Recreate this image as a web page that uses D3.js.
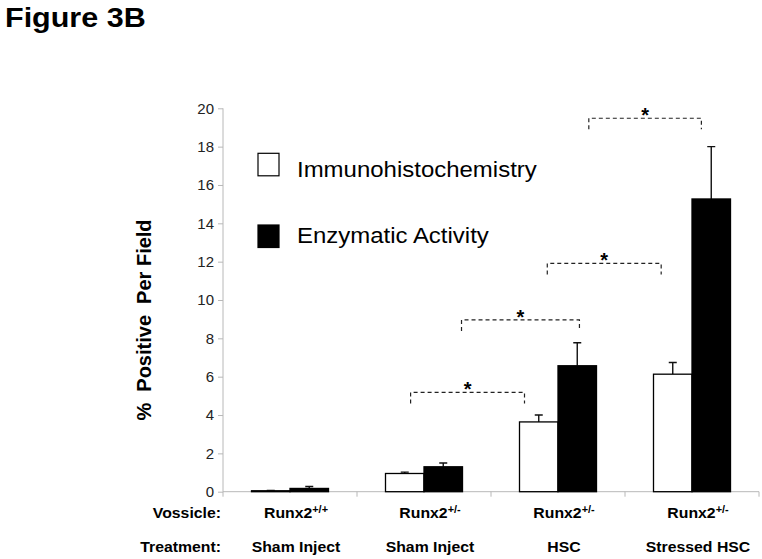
<!DOCTYPE html>
<html>
<head>
<meta charset="utf-8">
<script src="https://cdnjs.cloudflare.com/ajax/libs/d3/7.8.5/d3.min.js"></script>
<style>
  body { margin: 0; background: #fff; }
  svg { display: block; font-family: Arial, 'Liberation Sans', sans-serif; }
</style>
</head>
<body>
<svg width="762" height="559"></svg>
<script>
const svg = d3.select('svg');

// data
const categories = ['Sham Inject', 'Sham Inject 2', 'HSC', 'Stressed HSC'];
const vossicleLabels = ['+/+', '+/-', '+/-', '+/-'];
const treatmentLabels = ['Sham Inject', 'Sham Inject', 'HSC', 'Stressed HSC'];
const seriesNames = ['Immunohistochemistry', 'Enzymatic Activity'];
const immValues = [0.05, 0.95, 3.64, 6.13];
const immUpper = [0.07, 1.02, 4.0, 6.74];
const enzValues = [0.17, 1.3, 6.57, 15.27];
const enzUpper = [0.27, 1.5, 7.77, 18.0];
const yTicks = [0, 2, 4, 6, 8, 10, 12, 14, 16, 18, 20];
// significance brackets, in category units along x and % along y
const bracketFrom = [1.40, 1.78, 2.42, 2.73];
const bracketTo = [2.25, 2.66, 3.27, 3.57];
const bracketLevel = [5.18, 8.96, 11.91, 19.48];

const plot = { left: 223, right: 759, top: 108.3, bottom: 491.7 };
const hStretch = 1.09;  // source picture is a little wider than tall

const x = d3.scaleBand().domain(categories).range([plot.left, plot.right]);
const xs = d3.scaleBand().domain(seriesNames)
  .range([x.bandwidth() / 2 - 38.5, x.bandwidth() / 2 + 38.5]);
const xPos = d3.scaleLinear().domain([0, 4]).range([plot.left, plot.right]);
const y = d3.scaleLinear().domain([0, 20]).range([plot.bottom, plot.top]);

const stretchText = (sel, tx, ty) =>
  sel.attr('transform', `translate(${tx},${ty}) scale(${hStretch},1)`);

// title
svg.append('text')
  .call(stretchText, 5, 27)
  .attr('font-size', 28)
  .attr('font-weight', 'bold')
  .text('Figure 3B');

// y axis
const yAxisG = svg.append('g')
  .attr('transform', `translate(${plot.left},0)`)
  .call(d3.axisLeft(y).tickValues(yTicks).tickSize(5).tickPadding(4).tickFormat(d3.format('d')));
yAxisG.select('.domain').attr('stroke', '#b8b8b8').attr('d', `M0,${plot.top}V${plot.bottom + 5}`);
yAxisG.selectAll('.tick line').attr('stroke', '#b8b8b8');
yAxisG.selectAll('.tick text')
  .attr('font-size', 15)
  .attr('fill', '#222')
  .attr('font-family', 'Arial, Liberation Sans, sans-serif');

// x axis
const xAxisG = svg.append('g')
  .attr('transform', `translate(0,${plot.bottom})`);
xAxisG.append('line')
  .attr('x1', plot.left).attr('x2', plot.right)
  .attr('stroke', '#b8b8b8');
xAxisG.selectAll('.xtick').data(d3.range(1, 5))
  .enter().append('line')
  .attr('class', 'xtick')
  .attr('x1', d => xPos(d)).attr('x2', d => xPos(d))
  .attr('y1', 0).attr('y2', 5)
  .attr('stroke', '#b8b8b8');

// y axis label
svg.append('text')
  .attr('transform', `translate(151,320) rotate(-90)`)
  .attr('text-anchor', 'middle')
  .attr('font-size', 20)
  .attr('font-weight', 'bold')
  .attr('xml:space', 'preserve')
  .style('white-space', 'pre')
  .text('%  Positive  Per Field');

// bars
const barData = categories.map((c, i) => [
  { cat: c, series: seriesNames[0], value: immValues[i], upper: immUpper[i], fill: '#fff' },
  { cat: c, series: seriesNames[1], value: enzValues[i], upper: enzUpper[i], fill: '#000' }
]).flat();

const bars = svg.append('g');
// error bars (upward only)
bars.selectAll('.err').data(barData)
  .enter().append('path')
  .attr('class', 'err')
  .attr('d', d => {
    const cx = x(d.cat) + xs(d.series) + xs.bandwidth() / 2;
    return `M${cx},${y(d.value)}V${y(d.upper)}M${cx - 4},${y(d.upper)}H${cx + 4}`;
  })
  .attr('stroke', '#111')
  .attr('stroke-width', 1.4)
  .attr('fill', 'none');

bars.selectAll('rect').data(barData)
  .enter().append('rect')
  .attr('x', d => x(d.cat) + xs(d.series))
  .attr('y', d => y(d.value))
  .attr('width', xs.bandwidth())
  .attr('height', d => y(0) - y(d.value))
  .attr('fill', d => d.fill)
  .attr('stroke', '#000')
  .attr('stroke-width', 1.3);

// significance brackets
const legDrop = 11;
const brackets = d3.range(bracketFrom.length).map(i => ({
  x1: xPos(bracketFrom[i]), x2: xPos(bracketTo[i]), yy: y(bracketLevel[i])
}));
const bg = svg.append('g');
bg.selectAll('path').data(brackets)
  .enter().append('path')
  .attr('d', d => `M${d.x1},${d.yy + legDrop}V${d.yy}H${d.x2}V${d.yy + legDrop}`)
  .attr('fill', 'none')
  .attr('stroke', '#222')
  .attr('stroke-width', 1.2)
  .attr('stroke-dasharray', '4,3');
bg.selectAll('text').data(brackets)
  .enter().append('text')
  .attr('x', d => (d.x1 + d.x2) / 2)
  .attr('y', d => d.yy + 4)
  .attr('text-anchor', 'middle')
  .attr('font-size', 20)
  .attr('font-weight', 'bold')
  .text('*');

// legend
const legend = svg.append('g');
const legendFill = ['#fff', '#000'];
const legendY = [153.3, 225];
seriesNames.forEach((name, i) => {
  legend.append('rect')
    .attr('x', 258).attr('y', legendY[i])
    .attr('width', 21).attr('height', 22.5)
    .attr('fill', legendFill[i])
    .attr('stroke', '#000')
    .attr('stroke-width', 1.2);
  legend.append('text')
    .call(stretchText, 297, legendY[i] + 23.5 - (i ? 6 : 0))
    .attr('font-size', 22)
    .text(name);
});

// category labels under the axis
const labelG = svg.append('g').attr('font-weight', 'bold').attr('font-size', 14.5);
labelG.append('text')
  .call(stretchText, 221, 518)
  .attr('text-anchor', 'end')
  .text('Vossicle:');
labelG.append('text')
  .call(stretchText, 221, 552)
  .attr('text-anchor', 'end')
  .text('Treatment:');

categories.forEach((c, i) => {
  const cx = x(c) + x.bandwidth() / 2 + 6;
  const t = labelG.append('text')
    .call(stretchText, cx, 518)
    .attr('text-anchor', 'middle');
  t.append('tspan').text('Runx2');
  t.append('tspan')
    .attr('font-size', 10)
    .attr('dy', -5)
    .text(vossicleLabels[i]);
  labelG.append('text')
    .call(stretchText, cx, 552)
    .attr('text-anchor', 'middle')
    .text(treatmentLabels[i]);
});
</script>
</body>
</html>
